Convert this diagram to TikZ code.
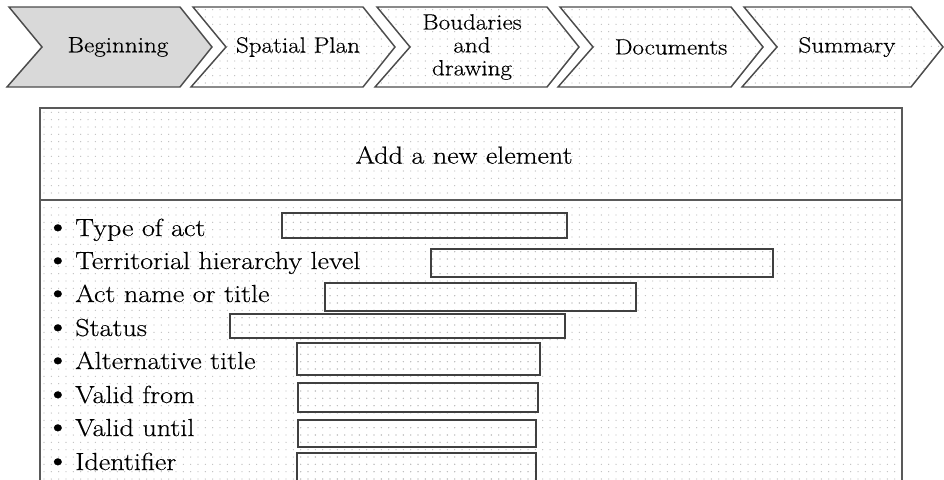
\documentclass[tikz,border=0pt]{standalone}
\usepackage{fontspec}
\setmainfont{Latin Modern Roman}[FakeStretch=1.14, FakeBold=0.4]
\usetikzlibrary{patterns.meta}

\tikzdeclarepattern{
  name=paperdots,
  type=uncolored,
  bounding box={(-2.75pt,-2.75pt) and (2.75pt,2.75pt)},
  tile size={(5.5pt,5.5pt)},
  code={\fill (0pt,0pt) circle (0.5pt);}
}

\tikzset{
  dotfill/.style={pattern=paperdots, pattern color=black!25},
  chevron/.style={draw=black!70, line width=1.1pt, line join=miter},
  field/.style={draw=black!75, line width=1.4pt, dotfill},
  txt/.style={font=\fontsize{18.5}{17.5}\selectfont, inner sep=0pt},
  steptxt/.style={font=\fontsize{16.5}{17.2}\selectfont, inner sep=0pt},
  item/.style={txt, anchor=base west},
}
\newcommand{\itm}[1]{\makebox[22.5pt][l]{\fontsize{23}{23}\selectfont\textbullet}#1}

\begin{document}
\begin{tikzpicture}[x=0.75pt, y=-0.75pt]
	\useasboundingbox (0,0) rectangle (944,479);

	% steps
	\filldraw[chevron, fill=black!15] (9,7) -- (180,7) -- (212,47) -- (180,87) -- (7,87) -- (42,47) -- cycle;
	\node[steptxt] (beginning) at (118,47) {Beginning};
	\draw[chevron, dotfill] (193,7) -- (363,7) -- (395,47) -- (363,87) -- (191,87) -- (226,47) -- cycle;
	\node[steptxt] (spatial) at (298,47) {Spatial Plan};
	\draw[chevron, dotfill] (377,7) -- (547,7) -- (579,47) -- (547,87) -- (375,87) -- (410,47) -- cycle;
	\node[steptxt, align=center] (boundaries) at (472,47) {Boudaries\\and\\drawing};
	\draw[chevron, dotfill] (560,7) -- (731,7) -- (763,47) -- (731,87) -- (558,87) -- (593,47) -- cycle;
	\node[steptxt] (documents) at (671,47) {Documents};
	\draw[chevron, dotfill] (744,7) -- (911,7) -- (943,47) -- (911,87) -- (742,87) -- (777,47) -- cycle;
	\node[steptxt] (summary) at (847,47) {Summary};

	% form
	\draw[black!65, line width=1.5pt, dotfill] (40,480) -- (40,108) -- (902,108) -- (902,480);
	\draw[black!65, line width=1.5pt] (40,200) -- (902,200);
	\node[txt] (title) at (464,155) {Add a new element};

	\node[item] (type) at (45,236) {\itm{Type of act}};
	\node[item] (level) at (45,269) {\itm{Territorial hierarchy level}};
	\node[item] (name) at (45,302) {\itm{Act name or title}};
	\node[item] (status) at (45,336) {\itm{Status}};
	\node[item] (alt) at (45,369) {\itm{Alternative title}};
	\node[item] (from) at (45,403) {\itm{Valid from}};
	\node[item] (until) at (45,436) {\itm{Valid until}};
	\node[item] (ident) at (45,470) {\itm{Identifier}};

	\draw[field] (282,213) rectangle (567,238);
	\draw[field] (431,249) rectangle (773,277);
	\draw[field] (325,283) rectangle (636,311);
	\draw[field] (230,314) rectangle (565,338);
	\draw[field] (297,343) rectangle (540,375);
	\draw[field] (298,383) rectangle (538,412);
	\draw[field] (298,420) rectangle (536,447);
	\draw[field] (297,481) -- (297,453) -- (536,453) -- (536,481);
\end{tikzpicture}
\end{document}
